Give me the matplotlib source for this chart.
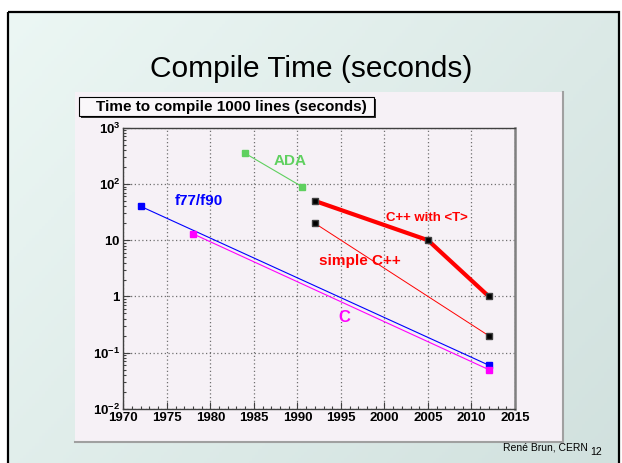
import numpy as np
import matplotlib
matplotlib.use("Agg")
import matplotlib.pyplot as plt
from matplotlib.patches import Rectangle
from matplotlib.ticker import FixedLocator, FixedFormatter, MultipleLocator, LogLocator, NullFormatter

plt.rcParams['font.family'] = ['Liberation Sans', 'DejaVu Sans']
plt.rcParams['mathtext.fontset'] = 'custom'
plt.rcParams['mathtext.rm'] = 'Liberation Sans'
plt.rcParams['mathtext.bf'] = 'Liberation Sans:bold'
plt.rcParams['mathtext.it'] = 'Liberation Sans:italic'

# ---- data ----
f77_years = [1972, 2012]
f77_times = [40, 0.06]
c_years = [1978, 2012]
c_times = [13, 0.05]
ada_years = [1984, 1990.5]
ada_times = [350, 90]
cppt_years = [1992, 2005, 2012]
cppt_times = [50, 10, 1]
cpp_years = [1992, 2012]
cpp_times = [20, 0.2]

y_ticks = [1e-2, 1e-1, 1, 10, 1e2, 1e3]
y_tick_labels = [r'$\mathbf{10^{-2}}$', r'$\mathbf{10^{-1}}$', r'$\mathbf{1}$',
                 r'$\mathbf{10}$', r'$\mathbf{10^{2}}$', r'$\mathbf{10^{3}}$']
x_ticks = [1970, 1975, 1980, 1985, 1990, 1995, 2000, 2005, 2010, 2015]

slide_title = "Compile Time (seconds)"
plot_title = "Time to compile 1000 lines (seconds)"
footer = "René Brun, CERN"
page = "12"

W, H = 622, 463
fig = plt.figure(figsize=(W / 100, H / 100), dpi=100)

# background / decoration axes in pixel coordinates
bg = fig.add_axes([0, 0, 1, 1])
bg.set_xlim(0, W)
bg.set_ylim(H, 0)
bg.axis('off')

# gradient inside slide frame
nx, ny = 200, 150
gx = np.linspace(0, 1, nx)[None, :]
gy = np.linspace(0, 1, ny)[:, None]
t = (gx * 0.6 + gy * 0.4)
c0 = np.array([0.925, 0.968, 0.957])
c1 = np.array([0.820, 0.882, 0.871])
img = c0[None, None, :] * (1 - t[..., None]) + c1[None, None, :] * t[..., None]
bg.imshow(img, extent=[8, 619, 470, 12], aspect='auto', zorder=0)
bg.add_patch(Rectangle((8, 12), 611, 470, fill=False, edgecolor='black', lw=1.6, zorder=1))

# slide title
bg.text(311, 69, slide_title, ha='center', va='center', fontsize=21.5, color='black', zorder=2)

# pad
pad_col = '#f6f1f6'
bg.add_patch(Rectangle((75, 92), 488, 350, facecolor=pad_col, edgecolor='none', zorder=2))
bg.plot([75, 563, 563], [442, 442, 92], color='#a0a0a0', lw=1.5, zorder=3)

# title box with shadow
bg.add_patch(Rectangle((81, 99), 295, 19, facecolor='#303030', edgecolor='none', zorder=3))
bg.add_patch(Rectangle((79, 97), 295, 19, facecolor='#faf7fa', edgecolor='black', lw=0.8, zorder=4))
bg.text(231, 107, plot_title, ha='center', va='center', fontsize=11, fontweight='bold', zorder=5)

# footer
bg.text(503, 450, footer, ha='left', va='baseline', fontsize=7.5, color='black', zorder=2)
bg.text(590, 455, page, ha='left', va='baseline', fontsize=7.5, color='black', zorder=2)

# main axes
left, right = 123.3, 515.0
top, bottom = 127.7, 409.0
ax = fig.add_axes([left / W, 1 - bottom / H, (right - left) / W, (bottom - top) / H])
ax.set_facecolor(pad_col)
ax.set_yscale('log')
ax.set_xlim(1970, 2015)
ax.set_ylim(1e-2, 1e3)

ax.xaxis.set_major_locator(FixedLocator(x_ticks))
ax.xaxis.set_minor_locator(MultipleLocator(1))
ax.yaxis.set_major_locator(FixedLocator(y_ticks))
ax.yaxis.set_major_formatter(FixedFormatter(y_tick_labels))
ax.yaxis.set_minor_locator(LogLocator(base=10, subs=np.arange(2, 10)))
ax.yaxis.set_minor_formatter(NullFormatter())

ax.tick_params(axis='both', which='major', direction='in', length=5, width=0.8,
               labelsize=9.5, color='#404040')
ax.tick_params(axis='both', which='minor', direction='in', length=2.5, width=0.8,
               color='#404040')
ax.tick_params(axis='x', pad=2)
ax.tick_params(axis='y', pad=2)
ax.set_xticklabels([str(v) for v in x_ticks], fontweight='bold', fontsize=9.5)

for s in ['left', 'bottom', 'top']:
    ax.spines[s].set_color('#404040')
    ax.spines[s].set_linewidth(1.0)
ax.spines['right'].set_color('#808080')
ax.spines['right'].set_linewidth(1.8)

ax.grid(True, which='major', color='#707070', linestyle=(0, (1, 2)), linewidth=0.9)
ax.set_axisbelow(True)

ms = 4.5
ax.plot(f77_years, f77_times, color='#0000ff', lw=0.8, marker='s', ms=ms,
        mfc='#0000ff', mec='#0000ff', zorder=3)
ax.plot(c_years, c_times, color='#ff00ff', lw=0.8, marker='s', ms=ms,
        mfc='#ff00ff', mec='#ff00ff', zorder=3)
ax.plot(ada_years, ada_times, color='#5fd05f', lw=0.8, marker='s', ms=ms,
        mfc='#5fd05f', mec='#5fd05f', zorder=3)
ax.plot(cppt_years, cppt_times, color='#ff0000', lw=3, marker='s', ms=ms,
        mfc='black', mec='#404040', zorder=4)
ax.plot(cpp_years, cpp_times, color='#ff0000', lw=0.7, marker='s', ms=ms,
        mfc='black', mec='#404040', zorder=4)

ax.text(1989.2, 260, 'ADA', color='#5fd05f', fontsize=11, fontweight='bold', ha='center', va='center')
ax.text(1978.7, 49, 'f77/f90', color='#0000ff', fontsize=11, fontweight='bold', ha='center', va='center')
ax.text(2004.9, 24.8, 'C++ with <T>', color='#ff0000', fontsize=9.5, fontweight='bold', ha='center', va='center')
ax.text(1997.15, 4.3, 'simple C++', color='#ff0000', fontsize=11, fontweight='bold', ha='center', va='center')
ax.text(1995.4, 0.43, 'C', color='#ff00ff', fontsize=12, fontweight='bold', ha='center', va='center')

fig.savefig('out.png', dpi=100)
